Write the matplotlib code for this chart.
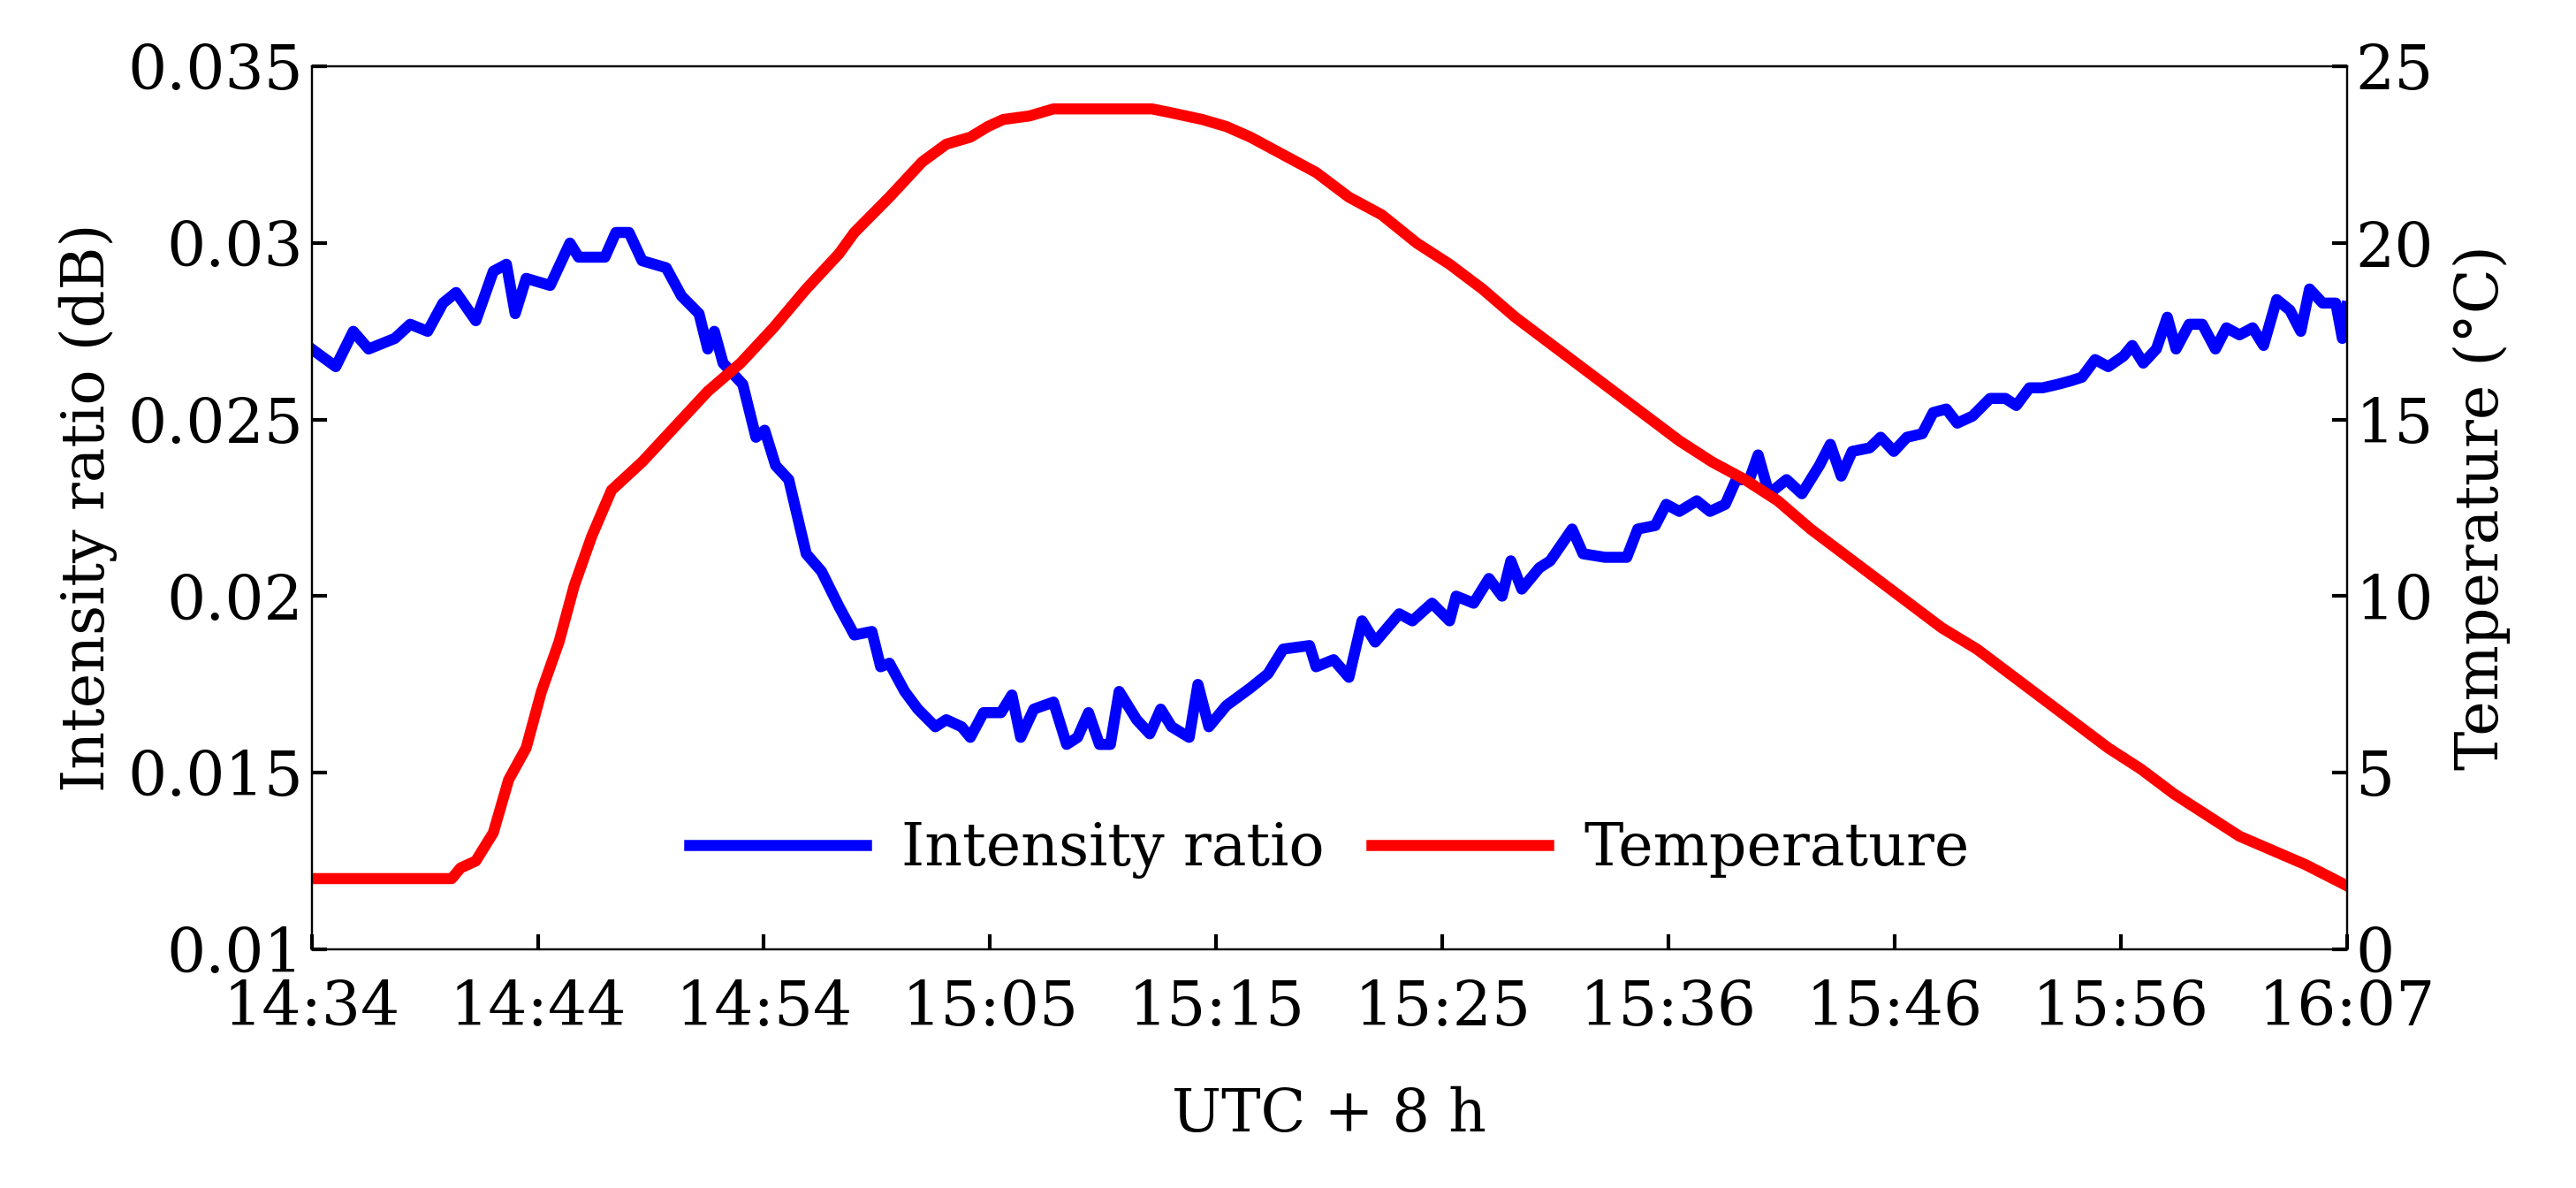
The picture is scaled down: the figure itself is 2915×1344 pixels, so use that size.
import numpy as np
import matplotlib.pyplot as plt

# minutes after 14:34
t_int = [0, 1.1, 1.9, 2.6, 3.8, 4.5, 5.3, 6.0, 6.6, 7.5, 8.3, 8.9, 9.3, 9.8, 10.9, 11.8, 12.2, 13.4,
         13.9, 14.5, 15.1, 16.2, 16.9, 17.7, 18.1, 18.4, 18.8, 19.7, 20.3, 20.7, 21.2, 21.8, 22.6,
         23.3, 24.1, 24.8, 25.6, 26.0, 26.4, 27.1, 27.7, 28.5, 29.0, 29.7, 30.1, 30.7, 31.5, 32.0,
         32.4, 33.0, 33.9, 34.5, 35.0, 35.5, 36.0, 36.5, 36.9, 37.7, 38.3, 38.8, 39.3, 40.1, 40.5,
         41.0, 41.8, 42.9, 43.7, 44.4, 45.6, 45.9, 46.7, 47.4, 48.0, 48.6, 49.7, 50.3, 51.2, 52.0,
         52.3, 53.1, 53.8, 54.4, 54.8, 55.3, 56.1, 56.6, 57.6, 58.1, 59.1, 60.1, 60.6, 61.4, 61.9,
         62.5, 63.3, 63.9, 64.6, 65.1, 65.7, 66.1, 66.6, 67.4, 68.1, 68.9, 69.4, 69.9, 70.4, 71.2,
         71.7, 72.3, 72.9, 73.6, 74.1, 74.7, 75.2, 75.9, 76.7, 77.4, 77.9, 78.5, 79.1, 79.8, 80.4,
         80.9, 81.5, 82.1, 82.8, 83.2, 83.7, 84.3, 84.8, 85.2, 85.8, 86.4, 87.0, 87.5, 88.1, 88.7,
         89.2, 89.8, 90.4, 90.9, 91.3, 91.9, 92.5, 92.8, 93.0]
intensity = [0.0270, 0.0265, 0.0275, 0.0270, 0.0273, 0.0277, 0.0275, 0.0283, 0.0286, 0.0278, 0.0292,
             0.0294, 0.0280, 0.0290, 0.0288, 0.0300, 0.0296, 0.0296, 0.0303, 0.0303, 0.0295, 0.0293,
             0.0285, 0.0280, 0.0270, 0.0275, 0.0266, 0.0260, 0.0245, 0.0247, 0.0237, 0.0233, 0.0212,
             0.0207, 0.0197, 0.0189, 0.0190, 0.0180, 0.0181, 0.0173, 0.0168, 0.0163, 0.0165, 0.0163,
             0.0160, 0.0167, 0.0167, 0.0172, 0.0160, 0.0168, 0.0170, 0.0158, 0.0160, 0.0167, 0.0158,
             0.0158, 0.0173, 0.0165, 0.0161, 0.0168, 0.0163, 0.0160, 0.0175, 0.0163, 0.0169, 0.0174,
             0.0178, 0.0185, 0.0186, 0.0180, 0.0182, 0.0177, 0.0193, 0.0187, 0.0195, 0.0193, 0.0198,
             0.0193, 0.0200, 0.0198, 0.0205, 0.0200, 0.0210, 0.0202, 0.0208, 0.0210, 0.0219, 0.0212,
             0.0211, 0.0211, 0.0219, 0.0220, 0.0226, 0.0224, 0.0227, 0.0224, 0.0226, 0.0233, 0.0233,
             0.0240, 0.0229, 0.0233, 0.0229, 0.0237, 0.0243, 0.0234, 0.0241, 0.0242, 0.0245, 0.0241,
             0.0245, 0.0246, 0.0252, 0.0253, 0.0249, 0.0251, 0.0256, 0.0256, 0.0254, 0.0259, 0.0259,
             0.0260, 0.0261, 0.0262, 0.0267, 0.0265, 0.0268, 0.0271, 0.0266, 0.0270, 0.0279, 0.0270,
             0.0277, 0.0277, 0.0270, 0.0276, 0.0274, 0.0276, 0.0271, 0.0284, 0.0281, 0.0275, 0.0287,
             0.0283, 0.0283, 0.0273, 0.0282]

t_temp = [0, 6.4, 6.8, 7.5, 8.3, 9.0, 9.8, 10.5, 11.3, 12.0, 12.8, 13.7, 15.1, 16.6, 18.1, 19.6,
          21.1, 22.6, 24.1, 24.8, 26.4, 27.9, 29.0, 30.1, 30.9, 31.6, 32.8, 33.9, 35.4, 38.4, 39.2,
          40.7, 41.8, 42.9, 44.4, 45.9, 47.4, 48.9, 50.5, 52.0, 53.5, 55.0, 56.5, 58.0, 59.5, 61.0,
          62.5, 64.0, 65.5, 67.0, 68.5, 70.0, 71.5, 73.0, 74.5, 76.1, 77.6, 79.1, 80.6, 82.1, 83.6,
          85.1, 86.6, 88.1, 89.6, 91.1, 93.0]
temperature = [2.0, 2.0, 2.3, 2.5, 3.3, 4.8, 5.7, 7.3, 8.7, 10.3, 11.7, 13.0, 13.8, 14.8, 15.8, 16.6,
               17.6, 18.7, 19.7, 20.3, 21.3, 22.3, 22.8, 23.0, 23.3, 23.5, 23.6, 23.8, 23.8, 23.8, 23.7,
               23.5, 23.3, 23.0, 22.5, 22.0, 21.3, 20.8, 20.0, 19.4, 18.7, 17.9, 17.2, 16.5, 15.8, 15.1,
               14.4, 13.8, 13.3, 12.7, 11.9, 11.2, 10.5, 9.8, 9.1, 8.5, 7.8, 7.1, 6.4, 5.7, 5.1,
               4.4, 3.8, 3.2, 2.8, 2.4, 1.8]

tick_labels = ["14:34", "14:44", "14:54", "15:05", "15:15", "15:25", "15:36", "15:46", "15:56", "16:07"]

plt.rcParams["font.family"] = "DejaVu Serif"
fig = plt.figure(figsize=(14.575, 6.72), dpi=200)
ax = fig.add_axes([0.121, 0.201, 0.79, 0.743])
ax2 = ax.twinx()

l1, = ax.plot(t_int, intensity, color="#0000ff", lw=4.5)
l2, = ax2.plot(t_temp, temperature, color="#ff0000", lw=4.5)

ax.set_xlim(0, 93)
ax.set_xticks(np.linspace(0, 93, len(tick_labels)))
ax.set_xticklabels(tick_labels)
ax.set_ylim(0.01, 0.035)
ax.set_yticks([0.01, 0.015, 0.02, 0.025, 0.03, 0.035])
ax.set_yticklabels(["0.01", "0.015", "0.02", "0.025", "0.03", "0.035"])
ax2.set_ylim(0, 25)
ax2.set_yticks([0, 5, 10, 15, 20, 25])

for a in (ax, ax2):
    a.tick_params(direction="in", labelsize=25, length=6, width=1.5)
ax.tick_params(axis="x", pad=12)
ax.set_xlabel("UTC + 8 h", fontsize=24, labelpad=20)
ax.set_ylabel("Intensity ratio (dB)", fontsize=24, labelpad=4)
ax2.set_ylabel("Temperature (°C)", fontsize=24, labelpad=8)

ax.legend([l1, l2], ["Intensity ratio", "Temperature"], loc="lower center", ncol=2,
          frameon=False, fontsize=24, bbox_to_anchor=(0.5, 0.02), handlelength=3.0,
          columnspacing=0.8, handletextpad=0.6)

fig.savefig("out.png")
